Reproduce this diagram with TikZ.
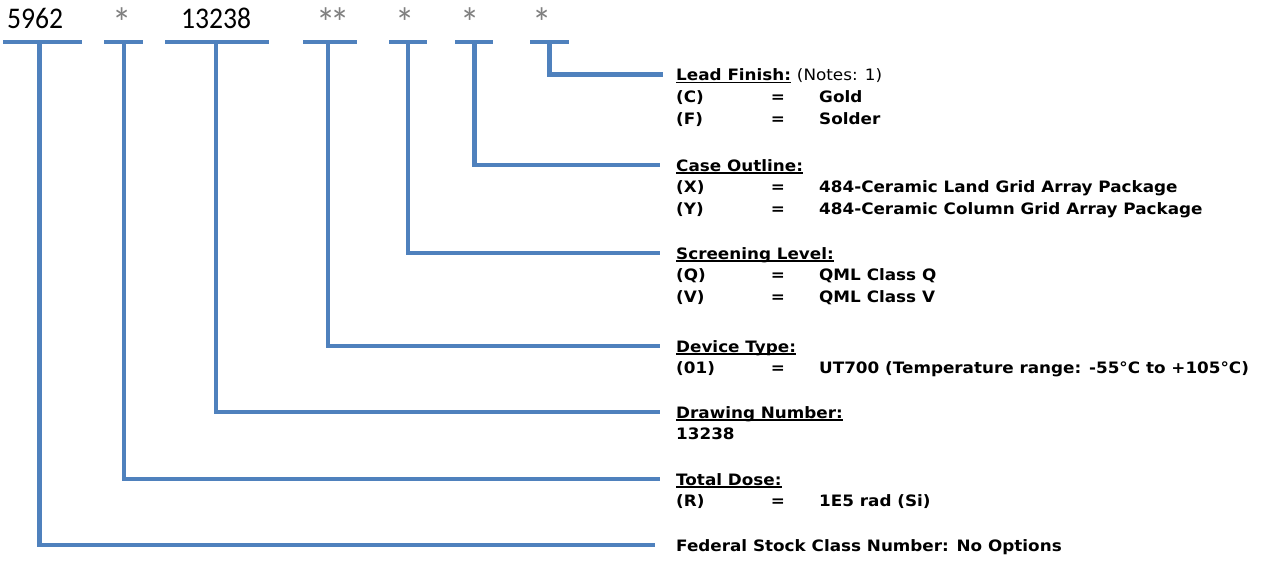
\documentclass[tikz,border=0pt]{standalone}
\usepackage{fontspec}
\setmainfont[FakeStretch=1.07]{DejaVu Sans}
\newfontfamily\topfont[FakeStretch=0.92]{Carlito}
\definecolor{lineblue}{HTML}{4F81BD}
\definecolor{stargrey}{HTML}{808080}
\newcommand\ulhead[1]{\setbox0\hbox{#1}\rlap{\rule[-2.6pt]{\wd0}{1.2pt}}\box0\relax}
\tikzset{
  conn/.style={draw=lineblue, line width=4.5pt, line join=miter},
  txt/.style={anchor=base west, inner sep=0pt, font=\fontsize{15.7}{17}\selectfont\bfseries},
  eqs/.style={anchor=base, inner sep=0pt, font=\fontsize{15.7}{17}\selectfont\bfseries},
  toplbl/.style={anchor=base, inner sep=0pt, font=\topfont\fontsize{30}{30}\selectfont},
  star/.style={anchor=base, inner sep=0pt, font=\topfont\fontsize{42}{42}\selectfont, text=stargrey}
}
\begin{document}
\begin{tikzpicture}[x=1pt,y=-1pt]
\useasboundingbox (0,0) rectangle (1261,562);
% top labels
\node[toplbl] (n5962) at (35,28) {5962};
\node[star] (st1) at (122,37) {*};
\node[toplbl] (n13238) at (216,28) {13238};
\node[star] (st2) at (333,37) {*\kern-6pt*};
\node[star] (st3) at (405,37) {*};
\node[star] (st4) at (470,37) {*};
\node[star] (st5) at (542,37) {*};
% bars
\draw[conn] (3,42) -- (82,42);
\draw[conn] (104,42) -- (143,42);
\draw[conn] (165,42) -- (269,42);
\draw[conn] (303,42) -- (357,42);
\draw[conn] (389,42) -- (427,42);
\draw[conn] (455,42) -- (493,42);
\draw[conn] (530,42) -- (569,42);
% stem tops
\coordinate (s1) at (39.5,42);
\coordinate (s2) at (124,42);
\coordinate (s3) at (216,42);
\coordinate (s4) at (328,42);
\coordinate (s5) at (408,42);
\coordinate (s6) at (474.5,42);
\coordinate (s7) at (549.5,42);
% line ends
\coordinate (e7) at (663,74.5);
\coordinate (e6) at (660,165);
\coordinate (e5) at (660,253);
\coordinate (e4) at (660,346);
\coordinate (e3) at (660,412);
\coordinate (e2) at (660,479);
\coordinate (e1) at (655,545);
\draw[conn] (s7) |- (e7);
\draw[conn] (s6) |- (e6);
\draw[conn] (s5) |- (e5);
\draw[conn] (s4) |- (e4);
\draw[conn] (s3) |- (e3);
\draw[conn] (s2) |- (e2);
\draw[conn] (s1) |- (e1);
% Lead finish
\node[txt] (hLead) at (676,80.5) {\ulhead{Lead Finish:} \mdseries(Notes: 1)};
\node[txt] (kC) at (676,102) {(C)};
\node[eqs] (qC) at (778,102) {=};
\node[txt] (vC) at (819,102) {Gold};
\node[txt] (kF) at (676,124) {(F)};
\node[eqs] (qF) at (778,124) {=};
\node[txt] (vF) at (819,124) {Solder};
% Case outline
\node[txt] (hCase) at (676,171) {\ulhead{Case Outline:}};
\node[txt] (kX) at (676,192.5) {(X)};
\node[eqs] (qX) at (778,192.5) {=};
\node[txt] (vX) at (819,192.5) {484-Ceramic Land Grid Array Package};
\node[txt] (kY) at (676,214.5) {(Y)};
\node[eqs] (qY) at (778,214.5) {=};
\node[txt] (vY) at (819,214.5) {484-Ceramic Column Grid Array Package};
% Screening
\node[txt] (hScr) at (676,259) {\ulhead{Screening Level:}};
\node[txt] (kQ) at (676,280.5) {(Q)};
\node[eqs] (qQ) at (778,280.5) {=};
\node[txt] (vQ) at (819,280.5) {QML Class Q};
\node[txt] (kV) at (676,302.5) {(V)};
\node[eqs] (qV) at (778,302.5) {=};
\node[txt] (vV) at (819,302.5) {QML Class V};
% Device type
\node[txt] (hDev) at (676,352) {\ulhead{Device Type:}};
\node[txt] (k01) at (676,373.5) {(01)};
\node[eqs] (q01) at (778,373.5) {=};
\node[txt] (v01) at (819,373.5) {UT700 (Temperature range: -55°C to +105°C)};
% Drawing number
\node[txt] (hDrw) at (676,418) {\ulhead{Drawing Number:}};
\node[txt] (vDrw) at (676,439.5) {13238};
% Total dose
\node[txt] (hTot) at (676,485) {\ulhead{Total Dose:}};
\node[txt] (kR) at (676,506.5) {(R)};
\node[eqs] (qR) at (778,506.5) {=};
\node[txt] (vR) at (819,506.5) {1E5 rad (Si)};
% Federal
\node[txt] (hFed) at (676,551) {Federal Stock Class Number: No Options};
\end{tikzpicture}
\end{document}
